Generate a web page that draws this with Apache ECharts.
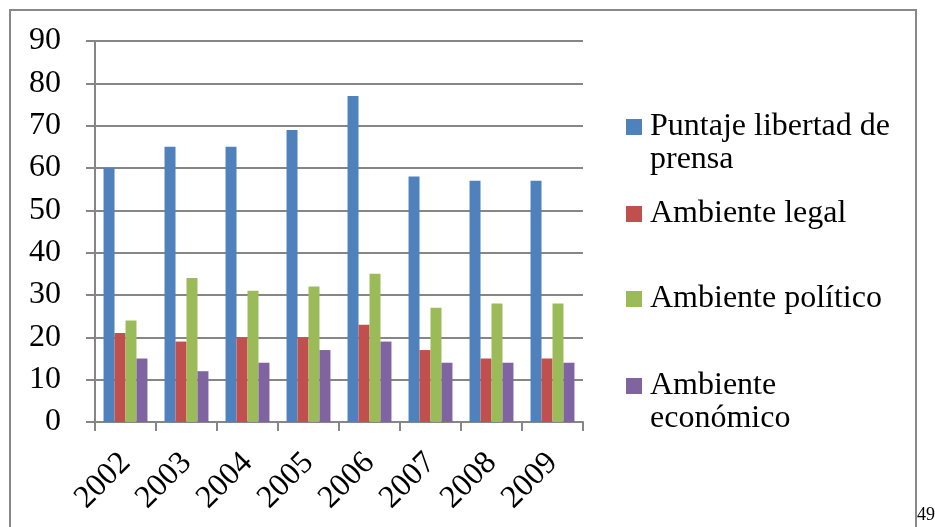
<!DOCTYPE html>
<html>
<head>
<meta charset="utf-8">
<script src="https://cdn.jsdelivr.net/npm/echarts@6/dist/echarts.min.js"></script>
<style>
html,body{margin:0;padding:0;background:#fff;}
#chart{width:935px;height:527px;}
</style>
</head>
<body>
<div id="chart"></div>
<script>
var years = ['2002','2003','2004','2005','2006','2007','2008','2009'];
var seriesNames = ['Puntaje libertad de prensa','Ambiente legal','Ambiente político','Ambiente económico'];
// legend text is split in two lines like the original, icon sits on the first line
var legendFirst = ['Puntaje libertad de','Ambiente legal','Ambiente político','Ambiente'];
var legendSecond = ['prensa','','','económico'];
var libertad = [60,65,65,69,77,58,57,57];
var legal = [21,19,20,20,23,17,15,15];
var politico = [24,34,31,32,35,27,28,28];
var economico = [15,12,14,17,19,14,14,14];
var colors = ['#4f81bd','#c0504d','#9bbb59','#8064a2'];
var legendCenters = [122,209,294,381];

var font = 'Liberation Serif, Times New Roman, serif';
var myChart = echarts.init(document.getElementById('chart'));

var legends = seriesNames.map(function(name, i){
    return {
        data:[name],
        left:621,
        top:legendCenters[i]-18,
        orient:'vertical',
        itemWidth:16,
        itemHeight:16,
        icon:'rect',
        selectedMode:false,
        formatter:function(){ return legendFirst[i]; },
        textStyle:{fontFamily:font,fontSize:32,color:'#000',lineHeight:36,padding:[0,0,0,3]}
    };
});

var graphics = [
    {type:'rect',shape:{x:10,y:10,width:906,height:530},style:{fill:null,stroke:'#888',lineWidth:2},silent:true},
    {type:'text',x:917,y:515,style:{text:'49',fontFamily:font,fontSize:18,fill:'#000',verticalAlign:'middle'}}
];
legendSecond.forEach(function(t, i){
    if(!t) return;
    graphics.push({type:'text',x:650,y:legendCenters[i]+38,style:{text:t,fontFamily:font,fontSize:32,fill:'#000',verticalAlign:'middle'}});
});

var values = [libertad,legal,politico,economico];
var series = seriesNames.map(function(name, i){
    return {
        name:name,
        type:'bar',
        data:values[i],
        itemStyle:{color:colors[i]},
        barGap:'0%',
        barCategoryGap:'28%'
    };
});

myChart.setOption({
    animation:false,
    color:colors,
    legend:legends,
    grid:{left:95,top:41,width:488,height:381},
    xAxis:{
        type:'category',
        data:years,
        axisLine:{lineStyle:{color:'#868686',width:2}},
        axisTick:{show:true,length:9,lineStyle:{color:'#868686',width:2}},
        axisLabel:{rotate:45,margin:36,fontFamily:font,fontSize:32,color:'#000'}
    },
    yAxis:{
        type:'value',
        min:0,
        max:90,
        interval:10,
        axisLine:{show:true,lineStyle:{color:'#868686',width:2}},
        axisTick:{show:true,length:9,lineStyle:{color:'#868686',width:2}},
        splitLine:{lineStyle:{color:'#868686',width:2}},
        axisLabel:{margin:34,fontFamily:font,fontSize:32,color:'#000'}
    },
    graphic:graphics,
    series:series
});
</script>
</body>
</html>
